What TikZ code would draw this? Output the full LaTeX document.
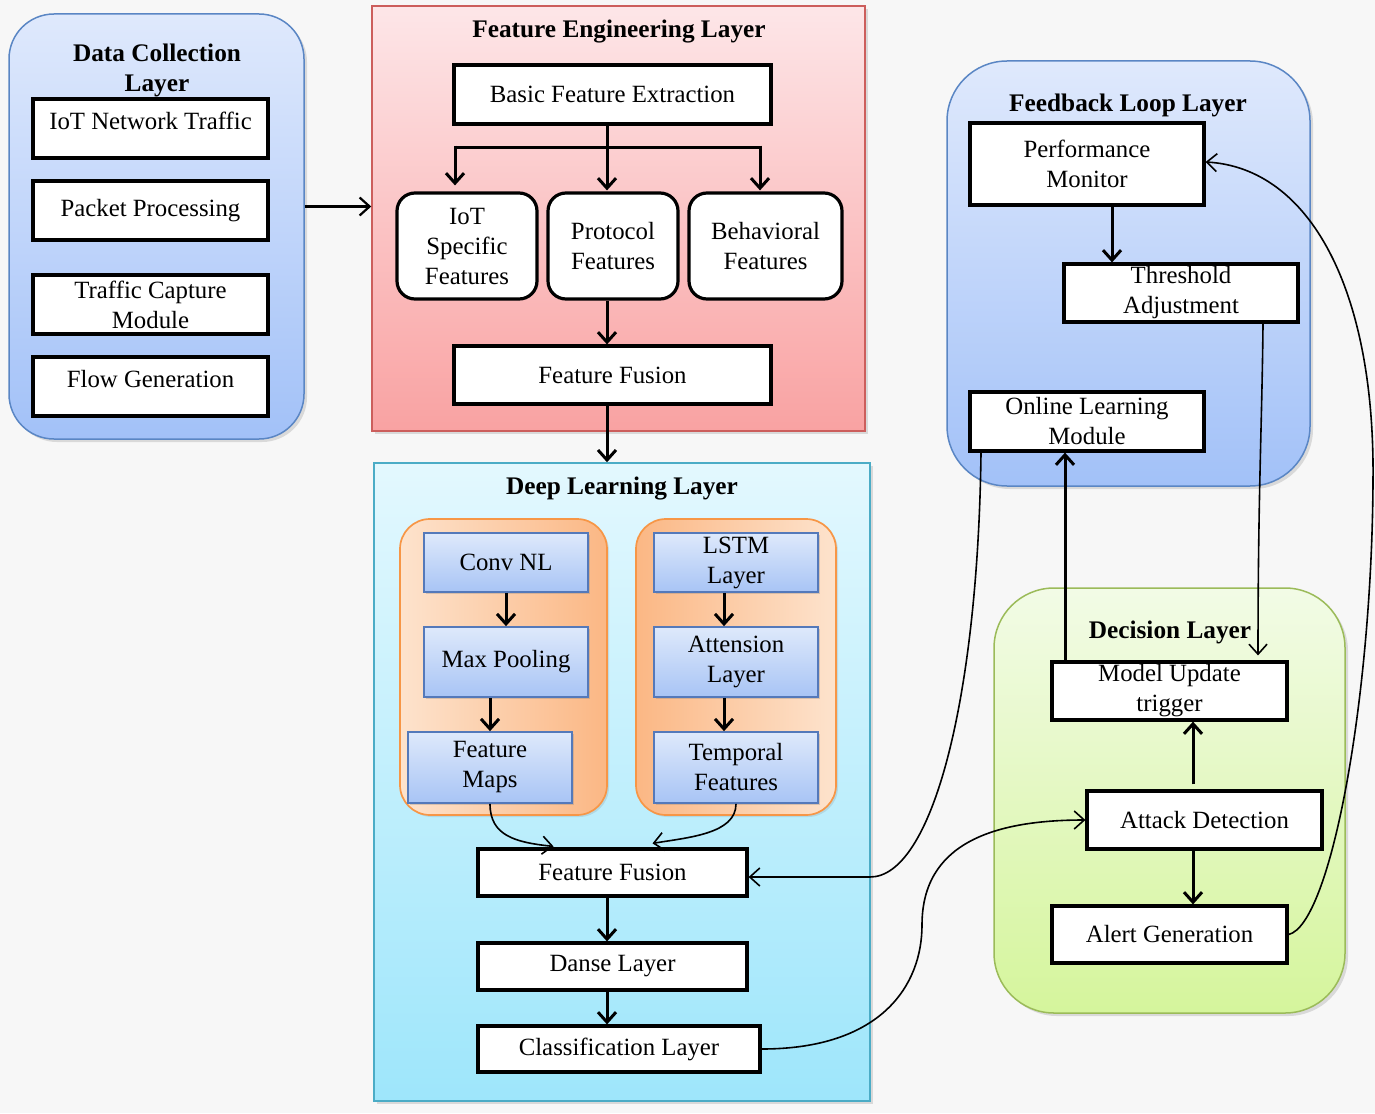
\documentclass[tikz,border=0pt]{standalone}
\usepackage{fontspec}
\setmainfont{Liberation Serif}
\usetikzlibrary{arrows.meta,shadows}

\definecolor{bgc}{HTML}{F7F7F7}
% layer colours
\definecolor{dcTop}{HTML}{DFE9FC}
\definecolor{dcBot}{HTML}{A2C1F8}
\definecolor{dcLine}{HTML}{5A86C4}
\definecolor{feTop}{HTML}{FDE6E8}
\definecolor{feBot}{HTML}{F9A2A2}
\definecolor{feLine}{HTML}{CC5E5C}
\definecolor{dlTop}{HTML}{E3F8FE}
\definecolor{dlBot}{HTML}{9EE6FB}
\definecolor{dlLine}{HTML}{4BACC6}
\definecolor{deTop}{HTML}{F2FBE6}
\definecolor{deBot}{HTML}{D5F59C}
\definecolor{deLine}{HTML}{9BBB59}
% inner groups and cells
\definecolor{orLight}{HTML}{FDE3CD}
\definecolor{orDeep}{HTML}{FBB784}
\definecolor{orLine}{HTML}{F79646}
\definecolor{cellTop}{HTML}{DEE9FB}
\definecolor{cellBot}{HTML}{A8C4F5}
\definecolor{cellLine}{HTML}{5479BA}

\begin{document}
\begin{tikzpicture}[x=1pt,y=1pt,
  font=\fontsize{24.8}{30}\selectfont,
  layer/.style={line width=1.5pt, inner sep=0pt,
    drop shadow={shadow xshift=3pt, shadow yshift=-3pt, opacity=0.25}},
  box/.style={draw=black, fill=white, line width=3.2pt, inner sep=0pt, align=center},
  rbox/.style={box, rounded corners=18pt},
  cell/.style={draw=cellLine, line width=1.7pt, top color=cellTop, bottom color=cellBot,
    inner sep=0pt, align=center,
    drop shadow={shadow xshift=2pt, shadow yshift=-2pt, opacity=0.3}},
  group/.style={draw=orLine, line width=1.7pt, rounded corners=30pt, inner sep=0pt,
    drop shadow={shadow xshift=2pt, shadow yshift=-2pt, opacity=0.2}},
  ltitle/.style={font=\fontsize{25.3}{30}\selectfont\bfseries, align=center, inner sep=0pt},
  thickarrow/.style={line width=3pt, -{Straight Barb[length=10pt,width=18pt]}},
  thinarrow/.style={line width=1.6pt, -{Straight Barb[length=10pt,width=18pt]}},
  plain/.style={line width=3pt}
]
% page
\fill[bgc] (0,0) rectangle (1375,-1113);
\useasboundingbox (0,0) rectangle (1375,-1113);

% ---------------- Data Collection Layer ----------------
\node[layer, draw=dcLine, top color=dcTop, bottom color=dcBot, rounded corners=45pt,
      minimum width=295, minimum height=425] (dcl) at (156.5,-226.5) {};
\node[ltitle] (dct) at (157,-70) {Data Collection\\Layer};
\node[box, minimum width=235, minimum height=59, text depth=15pt] (dc1) at (150.5,-128.5) {IoT Network Traffic};
\node[box, minimum width=235, minimum height=59] (dc2) at (150.5,-210.5) {Packet Processing};
\node[box, minimum width=235, minimum height=59] (dc3) at (150.5,-304.5) {Traffic Capture\\Module};
\node[box, minimum width=235, minimum height=59, text depth=15pt] (dc4) at (150.5,-386.5) {Flow Generation};

% ---------------- Feature Engineering Layer ----------------
\node[layer, draw=feLine, top color=feTop, bottom color=feBot,
      minimum width=493, minimum height=425] (fel) at (618.5,-218.5) {};
\node[ltitle] (fet) at (619,-32) {Feature Engineering Layer};
\node[box, minimum width=317, minimum height=59] (bfe) at (612.5,-94.5) {Basic Feature Extraction};
\node[rbox, minimum width=140, minimum height=106] (iotf) at (467,-246) {IoT\\Specific\\Features};
\node[rbox, minimum width=130, minimum height=106] (prot) at (613,-246) {Protocol\\Features};
\node[rbox, minimum width=153, minimum height=106] (behav) at (765.5,-246) {Behavioral\\Features};
\node[box, minimum width=317, minimum height=58] (ffe) at (612.5,-375) {Feature Fusion};

% ---------------- Deep Learning Layer ----------------
\node[layer, draw=dlLine, top color=dlTop, bottom color=dlBot,
      minimum width=496, minimum height=638] (dll) at (622,-782) {};
\node[ltitle] (dlt) at (622,-489) {Deep Learning Layer};
\node[group, left color=orLight, right color=orDeep,
      minimum width=207, minimum height=296] (gcnn) at (503.5,-667) {};
\node[group, left color=orDeep, right color=orLight,
      minimum width=200, minimum height=296] (grnn) at (736,-667) {};
\node[cell, minimum width=164, minimum height=59] (conv) at (506,-562.5) {Conv NL};
\node[cell, minimum width=164, minimum height=70] (maxp) at (506,-662) {Max Pooling};
\node[cell, minimum width=164, minimum height=71] (fmap) at (490,-767.5) {Feature\\Maps};
\node[cell, minimum width=164, minimum height=59] (lstm) at (736,-562.5) {LSTM\\Layer};
\node[cell, minimum width=164, minimum height=70] (attn) at (736,-662) {Attension\\Layer};
\node[cell, minimum width=164, minimum height=71] (temp) at (736,-767.5) {Temporal\\Features};
\node[box, minimum width=269, minimum height=47] (ff2) at (612.5,-872.5) {Feature Fusion};
\node[box, minimum width=269, minimum height=47] (danse) at (612.5,-966.5) {Danse Layer};
\node[box, minimum width=282, minimum height=46] (cls) at (619,-1049) {Classification Layer};

% ---------------- Feedback Loop Layer ----------------
\node[layer, draw=dcLine, top color=dcTop, bottom color=dcBot, rounded corners=60pt,
      minimum width=363, minimum height=425] (fll) at (1128.5,-273.5) {};
\node[ltitle] (flt) at (1128,-105) {Feedback Loop Layer};
\node[box, minimum width=234, minimum height=82] (perf) at (1087,-164) {Performance\\Monitor};
\node[box, minimum width=234, minimum height=58] (thr) at (1181,-293) {Threshold\\Adjustment};
\node[box, minimum width=234, minimum height=59] (onl) at (1087,-421.5) {Online Learning\\Module};

% ---------------- Decision Layer ----------------
\node[layer, draw=deLine, top color=deTop, bottom color=deBot, rounded corners=60pt,
      minimum width=351, minimum height=425] (decl) at (1169.5,-800.5) {};
\node[ltitle] (det) at (1170,-632) {Decision Layer};
\node[box, minimum width=235, minimum height=58] (mut) at (1169.5,-691) {Model Update\\trigger};
\node[box, minimum width=235, minimum height=58] (atk) at (1204.5,-820) {Attack Detection};
\node[box, minimum width=235, minimum height=57] (alrt) at (1169.5,-934.5) {Alert Generation};

% ---------------- connectors ----------------
% data collection feeds feature engineering
\draw[thickarrow, line width=2.2pt] ([yshift=20pt]dcl.east) -- ([yshift=20pt]dcl.east -| fel.west);

% feature engineering branches
\coordinate (spine) at (607,-147);
\coordinate (brl) at (455,-147);
\coordinate (brr) at (760,-147);
\draw[plain] (brl) -- (brr);
\draw[thickarrow] (bfe.south -| spine) -- ([yshift=1pt]prot.north -| spine);
\draw[thickarrow] ([yshift=1.5pt]brl) -- ([yshift=6pt]brl |- iotf.north);
\draw[thickarrow] ([yshift=1.5pt]brr) -- ([yshift=1pt]brr |- behav.north);
\draw[thickarrow] (prot.south -| spine) -- (ffe.north -| spine);
\draw[thickarrow] (ffe.south -| spine) -- (dll.north -| spine);

% convolutional branch
\draw[thickarrow] (conv.south) -- (maxp.north);
\draw[thickarrow] (maxp.south -| fmap.north) -- (fmap.north);
% recurrent branch
\draw[thickarrow] ([xshift=-12pt]lstm.south) -- ([xshift=-12pt]attn.north);
\draw[thickarrow] ([xshift=-12pt]attn.south) -- ([xshift=-12pt]temp.north);
% merge into fusion
\draw[thinarrow] (fmap.south) .. controls +(0,-32) and +(-38,4) .. ([xshift=-59pt,yshift=1pt]ff2.north);
\draw[thinarrow] (temp.south) .. controls +(0,-30) and +(36,6) .. ([xshift=40pt,yshift=4pt]ff2.north);
% dense stack
\draw[thickarrow] ([xshift=-5.5pt]ff2.south) -- ([xshift=-5.5pt]danse.north);
\draw[thickarrow] ([xshift=-5.5pt]danse.south) -- ([xshift=-5.5pt]danse.south |- cls.north);

% classification to decision
\draw[thinarrow] (cls.east) .. controls +(120,0) and +(0,-60) .. (922,-925)
  .. controls +(0,80) and +(-95,0) .. (atk.west);

% decision layer internals
\draw[thickarrow] ([xshift=-11.5pt,yshift=5pt]atk.north) -- ([xshift=-11.5pt]atk.north |- mut.south);
\draw[thickarrow] ([xshift=-11.5pt]atk.south) -- ([xshift=-11.5pt]atk.south |- alrt.north);

% feedback loop internals
\draw[thickarrow] ([xshift=25pt]perf.south) -- ([xshift=25pt]perf.south |- thr.north);
\draw[thinarrow] ([xshift=82pt]thr.south) .. controls +(-1,-100) and +(0,160) .. ([xshift=88.5pt,yshift=5pt]mut.north);
\draw[thickarrow] ([xshift=-104.5pt]mut.north) -- ([xshift=-104.5pt]mut.north |- onl.south);

% online learning back to fusion
\draw[thinarrow] ([xshift=-106pt]onl.south) .. controls (978,-700) and (932,-877) .. (870,-877)
  -- ([yshift=-4.5pt]ff2.east);

% alerts back to performance monitor
\draw[thinarrow] (alrt.east) .. controls +(42,10) and (1372,-700) .. (1373,-480)
  .. controls (1375,-290) and (1310,-168) .. ([yshift=2pt]perf.east);
\end{tikzpicture}
\end{document}
